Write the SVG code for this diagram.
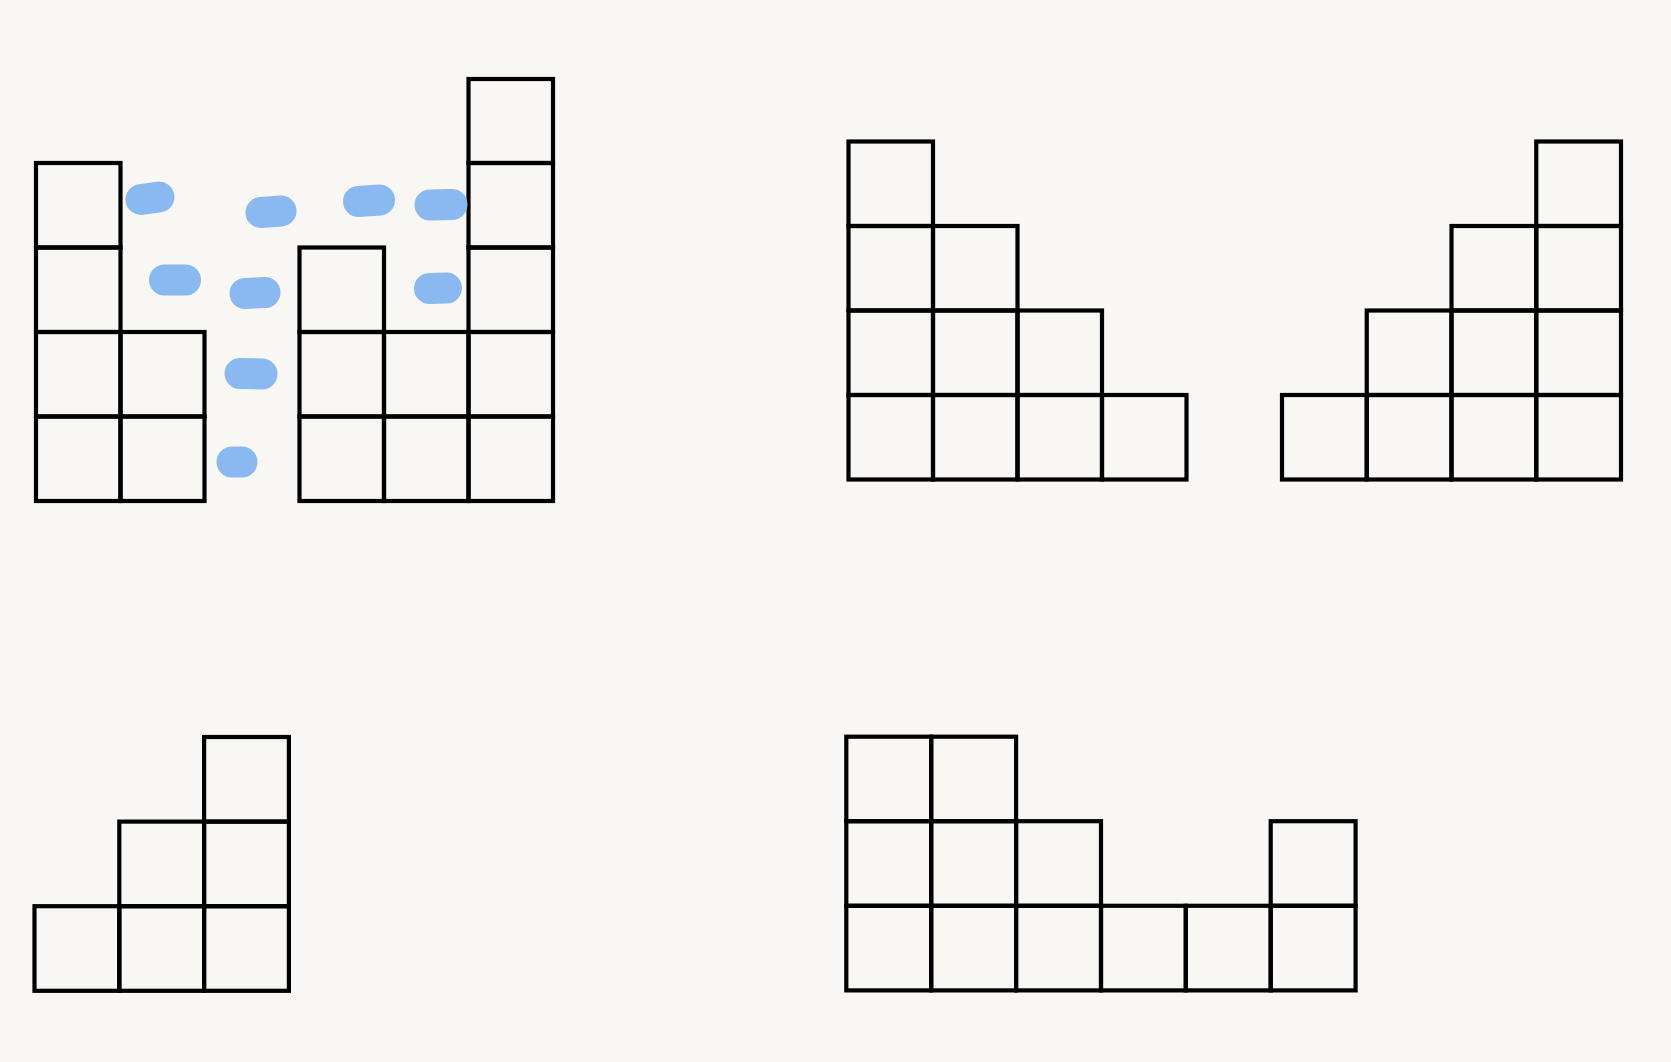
<svg xmlns="http://www.w3.org/2000/svg" width="1671" height="1062" viewBox="0 0 1671 1062">
<style>
.cell{fill:none;stroke:#000;stroke-width:4.2;stroke-linejoin:miter}
.blob{fill:none;stroke:#8ab8f1;stroke-width:31;stroke-linecap:round}
</style>
<rect x="0" y="0" width="1671" height="1062" fill="#f8f7f3"/>
<g id="fig-top-left">
<rect class="cell" x="36" y="163" width="84.5" height="84.5"/>
<rect class="cell" x="36" y="247.5" width="84.5" height="84.5"/>
<rect class="cell" x="36" y="332" width="84.5" height="84.5"/>
<rect class="cell" x="36" y="416.5" width="84.5" height="84.5"/>
<rect class="cell" x="120.5" y="332" width="84" height="84.5"/>
<rect class="cell" x="120.5" y="416.5" width="84" height="84.5"/>
<rect class="cell" x="299.5" y="247.5" width="84.5" height="84.5"/>
<rect class="cell" x="299.5" y="332" width="84.5" height="84.5"/>
<rect class="cell" x="299.5" y="416.5" width="84.5" height="84.5"/>
<rect class="cell" x="384" y="332" width="84.5" height="84.5"/>
<rect class="cell" x="384" y="416.5" width="84.5" height="84.5"/>
<rect class="cell" x="468.5" y="79" width="84.5" height="84"/>
<rect class="cell" x="468.5" y="163" width="84.5" height="84.5"/>
<rect class="cell" x="468.5" y="247.5" width="84.5" height="84.5"/>
<rect class="cell" x="468.5" y="332" width="84.5" height="84.5"/>
<rect class="cell" x="468.5" y="416.5" width="84.5" height="84.5"/>
</g>
<g id="water">
<path class="blob" d="M141,199.5 L159,197"/>
<path class="blob" d="M261,212.5 L281,211"/>
<path class="blob" d="M358.5,201.5 L379.5,200"/>
<path class="blob" d="M430,205 L452,204.5"/>
<path class="blob" d="M164.5,280 L185.5,280"/>
<path class="blob" d="M245,293.5 L265,292.5"/>
<path class="blob" d="M429.5,288.5 L446.5,288"/>
<path class="blob" d="M240,373.5 L262,374"/>
<path class="blob" d="M232,462 L242,462"/>
</g>
<g id="fig-top-right-a">
<rect class="cell" x="848.5" y="141.5" width="84.5" height="84.5"/>
<rect class="cell" x="848.5" y="226" width="84.5" height="84.5"/>
<rect class="cell" x="848.5" y="310.5" width="84.5" height="84.5"/>
<rect class="cell" x="848.5" y="395" width="84.5" height="84.5"/>
<rect class="cell" x="933" y="226" width="84.5" height="84.5"/>
<rect class="cell" x="933" y="310.5" width="84.5" height="84.5"/>
<rect class="cell" x="933" y="395" width="84.5" height="84.5"/>
<rect class="cell" x="1017.5" y="310.5" width="84.5" height="84.5"/>
<rect class="cell" x="1017.5" y="395" width="84.5" height="84.5"/>
<rect class="cell" x="1102" y="395" width="84.5" height="84.5"/>
</g>
<g id="fig-top-right-b">
<rect class="cell" x="1282" y="395" width="84.75" height="84.5"/>
<rect class="cell" x="1366.75" y="310.5" width="84.75" height="84.5"/>
<rect class="cell" x="1366.75" y="395" width="84.75" height="84.5"/>
<rect class="cell" x="1451.5" y="226" width="84.75" height="84.5"/>
<rect class="cell" x="1451.5" y="310.5" width="84.75" height="84.5"/>
<rect class="cell" x="1451.5" y="395" width="84.75" height="84.5"/>
<rect class="cell" x="1536.25" y="141.5" width="84.75" height="84.5"/>
<rect class="cell" x="1536.25" y="226" width="84.75" height="84.5"/>
<rect class="cell" x="1536.25" y="310.5" width="84.75" height="84.5"/>
<rect class="cell" x="1536.25" y="395" width="84.75" height="84.5"/>
</g>
<g id="fig-bottom-left">
<rect class="cell" x="34.5" y="906.2" width="84.8" height="84.6"/>
<rect class="cell" x="119.3" y="821.6" width="84.8" height="84.6"/>
<rect class="cell" x="119.3" y="906.2" width="84.8" height="84.6"/>
<rect class="cell" x="204.1" y="737" width="84.8" height="84.6"/>
<rect class="cell" x="204.1" y="821.6" width="84.8" height="84.6"/>
<rect class="cell" x="204.1" y="906.2" width="84.8" height="84.6"/>
</g>
<g id="fig-bottom-right">
<rect class="cell" x="846.3" y="736.7" width="84.9" height="84.5"/>
<rect class="cell" x="846.3" y="821.2" width="84.9" height="84.6"/>
<rect class="cell" x="846.3" y="905.8" width="84.9" height="84.6"/>
<rect class="cell" x="931.2" y="736.7" width="84.9" height="84.5"/>
<rect class="cell" x="931.2" y="821.2" width="84.9" height="84.6"/>
<rect class="cell" x="931.2" y="905.8" width="84.9" height="84.6"/>
<rect class="cell" x="1016.1" y="821.2" width="84.9" height="84.6"/>
<rect class="cell" x="1016.1" y="905.8" width="84.9" height="84.6"/>
<rect class="cell" x="1101" y="905.8" width="84.8" height="84.6"/>
<rect class="cell" x="1185.8" y="905.8" width="84.9" height="84.6"/>
<rect class="cell" x="1270.7" y="821.2" width="84.9" height="84.6"/>
<rect class="cell" x="1270.7" y="905.8" width="84.9" height="84.6"/>
</g>
</svg>
